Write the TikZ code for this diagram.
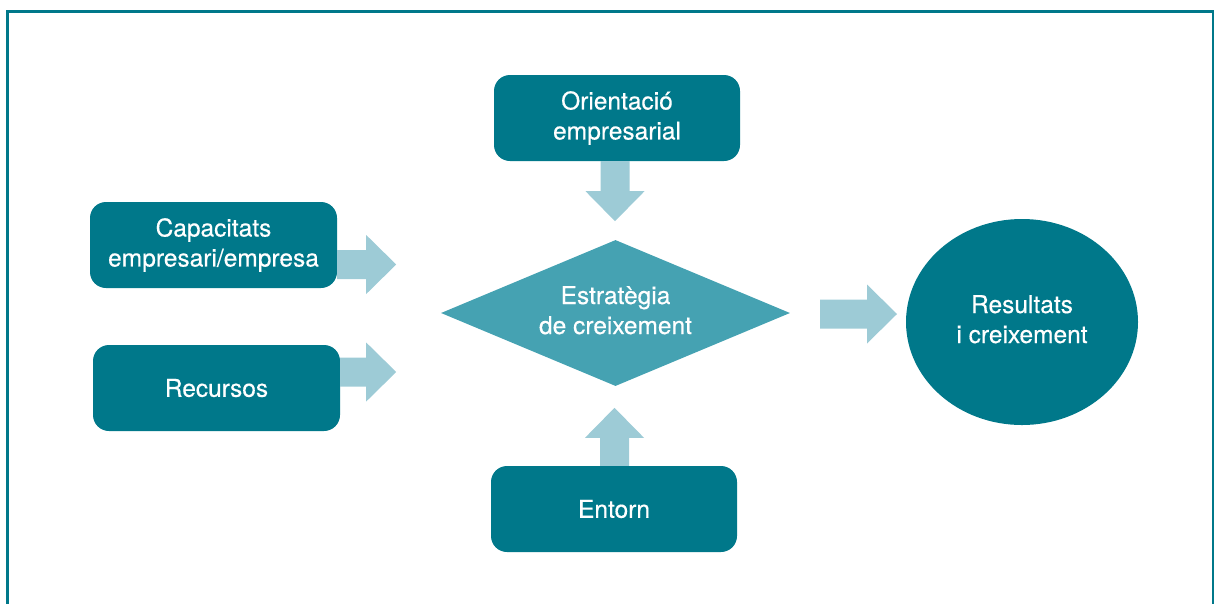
\documentclass[tikz,border=0pt]{standalone}
\usepackage{fontspec}
\setmainfont{TeX Gyre Heros}
\newfontfamily\medfont[FakeBold=0.4]{TeX Gyre Heros}
\usetikzlibrary{shapes.geometric,calc}
\definecolor{tealdark}{RGB}{0,120,138}
\definecolor{tealmid}{RGB}{69,162,178}
\definecolor{teallight}{RGB}{157,203,214}
\tikzset{
  txt/.style={text=white, align=center, font=\medfont\fontsize{24.5}{30}\selectfont, inner sep=0pt},
  boxnode/.style={txt, fill=tealdark, rounded corners=16pt, minimum width=246pt, minimum height=86pt},
  diamondnode/.style={txt, diamond, fill=tealmid, aspect=2.4, minimum width=349pt, minimum height=146pt},
  ellipsenode/.style={txt, ellipse, fill=tealdark, minimum width=232pt, minimum height=206pt},
  arrowfill/.style={fill=teallight},
  framestyle/.style={draw=tealdark, line width=2.6pt}
}
% block arrow: start point, rotation (canvas degrees), total length
\newcommand{\blockarrow}[3]{%
  \fill[arrowfill, shift={(#1)}, rotate=#2]
    (0,-14.5) -- (#3-30,-14.5) -- (#3-30,-29.5) -- (#3,0)
    -- (#3-30,29.5) -- (#3-30,14.5) -- (0,14.5) -- cycle;}
\begin{document}
\begin{tikzpicture}[x=1pt,y=-1pt]
\useasboundingbox (0,0) rectangle (1214,603);
\draw[framestyle] (7.3,610) -- (7.3,11.3) -- (1213.5,11.3) -- (1213.5,610);

\node[boxnode] (orient) at (617,118) {Orientació\\empresarial};
\node[boxnode, minimum width=247pt] (capac) at (213.5,245) {Capacitats\\empresari/empresa};
\node[boxnode, minimum width=247pt] (recur) at (216.5,388) {Recursos};
\node[boxnode] (entorn) at (614,509) {Entorn};
\node[diamondnode] (estr) at (615.5,313) {\raisebox{3pt}{\begin{tabular}{@{}c@{}}Estratègia\\de creixement\end{tabular}}};
\node[ellipsenode] (result) at (1022,322) {\raisebox{2pt}{\begin{tabular}{@{}c@{}}Resultats\\i creixement\end{tabular}}};

\coordinate (capA) at ($(capac.east)+(0,19.5)$);
\coordinate (recA) at ($(recur.east)+(0,-16)$);
\coordinate (oriA) at ($(orient.south)+(-2,0)$);
\coordinate (entA) at ($(entorn.north)+(0.5,0)$);
\coordinate (resA) at (820,314);

\blockarrow{capA}{0}{59}
\blockarrow{recA}{0}{56}
\blockarrow{oriA}{-90}{60}
\blockarrow{entA}{90}{58}
\blockarrow{resA}{0}{77}
\end{tikzpicture}
\end{document}
